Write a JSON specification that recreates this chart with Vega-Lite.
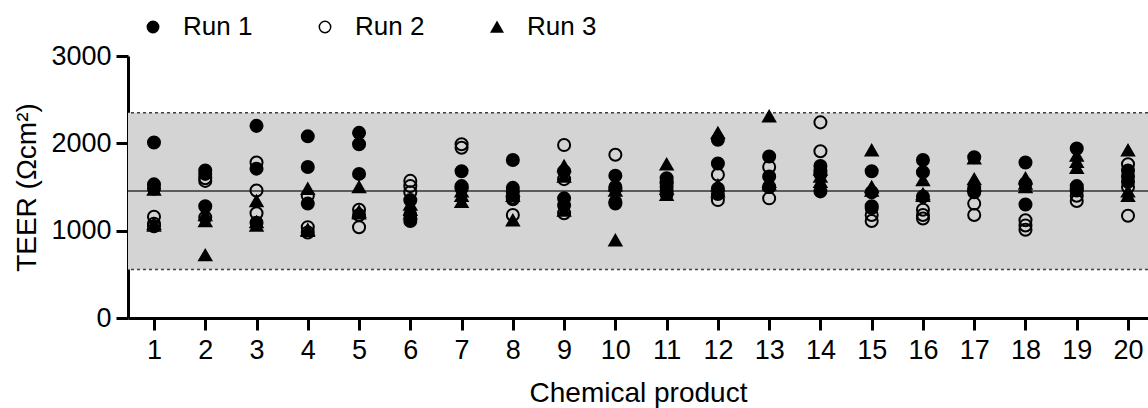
{
  "$schema": "https://vega.github.io/schema/vega-lite/v6.json",
  "width": 1020,
  "height": 262,
  "autosize": {"type": "none"},
  "padding": {"left": 128, "top": 56, "right": 0, "bottom": 90},
  "config": {
    "view": {"stroke": null},
    "font": "Liberation Sans",
    "axis": {
      "domainColor": "black", "domainWidth": 3,
      "tickColor": "black", "tickWidth": 3, "tickSize": 12,
      "labelColor": "black", "labelFontSize": 27, "labelFont": "Liberation Sans",
      "titleColor": "black", "titleFontSize": 28, "titleFontWeight": "normal", "titleFont": "Liberation Sans",
      "grid": false, "labelFlush": false, "labelOverlap": false
    },
    "legend": {"padding": 0}
  },
  "datasets": {
    "band": [{"lower": 555, "upper": 2350, "mean": 1455}],
    "points": [
      {"product":1,"run":"Run 1","teer":2010},{"product":1,"run":"Run 1","teer":1530},{"product":1,"run":"Run 1","teer":1480},
      {"product":1,"run":"Run 2","teer":1160},{"product":1,"run":"Run 2","teer":1050},{"product":1,"run":"Run 2","teer":1080},
      {"product":1,"run":"Run 3","teer":1470},{"product":1,"run":"Run 3","teer":1080},{"product":1,"run":"Run 3","teer":1060},
      {"product":2,"run":"Run 1","teer":1690},{"product":2,"run":"Run 1","teer":1650},{"product":2,"run":"Run 1","teer":1280},
      {"product":2,"run":"Run 2","teer":1570},{"product":2,"run":"Run 2","teer":1600},{"product":2,"run":"Run 2","teer":1150},
      {"product":2,"run":"Run 3","teer":1180},{"product":2,"run":"Run 3","teer":1110},{"product":2,"run":"Run 3","teer":720},
      {"product":3,"run":"Run 1","teer":2200},{"product":3,"run":"Run 1","teer":1710},{"product":3,"run":"Run 1","teer":1090},
      {"product":3,"run":"Run 2","teer":1780},{"product":3,"run":"Run 2","teer":1460},{"product":3,"run":"Run 2","teer":1200},
      {"product":3,"run":"Run 3","teer":1340},{"product":3,"run":"Run 3","teer":1100},{"product":3,"run":"Run 3","teer":1060},
      {"product":4,"run":"Run 1","teer":2080},{"product":4,"run":"Run 1","teer":1730},{"product":4,"run":"Run 1","teer":1310},
      {"product":4,"run":"Run 2","teer":1400},{"product":4,"run":"Run 2","teer":1040},{"product":4,"run":"Run 2","teer":980},
      {"product":4,"run":"Run 3","teer":1480},{"product":4,"run":"Run 3","teer":1010},{"product":4,"run":"Run 3","teer":1000},
      {"product":5,"run":"Run 1","teer":2120},{"product":5,"run":"Run 1","teer":1990},{"product":5,"run":"Run 1","teer":1650},
      {"product":5,"run":"Run 2","teer":1240},{"product":5,"run":"Run 2","teer":1180},{"product":5,"run":"Run 2","teer":1040},
      {"product":5,"run":"Run 3","teer":1500},{"product":5,"run":"Run 3","teer":1220},{"product":5,"run":"Run 3","teer":1200},
      {"product":6,"run":"Run 1","teer":1350},{"product":6,"run":"Run 1","teer":1180},{"product":6,"run":"Run 1","teer":1110},
      {"product":6,"run":"Run 2","teer":1570},{"product":6,"run":"Run 2","teer":1510},{"product":6,"run":"Run 2","teer":1440},
      {"product":6,"run":"Run 3","teer":1300},{"product":6,"run":"Run 3","teer":1240},{"product":6,"run":"Run 3","teer":1200},
      {"product":7,"run":"Run 1","teer":1680},{"product":7,"run":"Run 1","teer":1510},{"product":7,"run":"Run 1","teer":1480},
      {"product":7,"run":"Run 2","teer":1990},{"product":7,"run":"Run 2","teer":1950},{"product":7,"run":"Run 2","teer":1500},
      {"product":7,"run":"Run 3","teer":1330},{"product":7,"run":"Run 3","teer":1450},{"product":7,"run":"Run 3","teer":1400},
      {"product":8,"run":"Run 1","teer":1810},{"product":8,"run":"Run 1","teer":1490},{"product":8,"run":"Run 1","teer":1440},
      {"product":8,"run":"Run 2","teer":1380},{"product":8,"run":"Run 2","teer":1180},{"product":8,"run":"Run 2","teer":1360},
      {"product":8,"run":"Run 3","teer":1120},{"product":8,"run":"Run 3","teer":1460},{"product":8,"run":"Run 3","teer":1400},
      {"product":9,"run":"Run 1","teer":1680},{"product":9,"run":"Run 1","teer":1370},{"product":9,"run":"Run 1","teer":1290},
      {"product":9,"run":"Run 2","teer":1980},{"product":9,"run":"Run 2","teer":1590},{"product":9,"run":"Run 2","teer":1200},
      {"product":9,"run":"Run 3","teer":1740},{"product":9,"run":"Run 3","teer":1620},{"product":9,"run":"Run 3","teer":1230},
      {"product":10,"run":"Run 1","teer":1630},{"product":10,"run":"Run 1","teer":1330},{"product":10,"run":"Run 1","teer":1310},
      {"product":10,"run":"Run 2","teer":1870},{"product":10,"run":"Run 2","teer":1500},{"product":10,"run":"Run 2","teer":1480},
      {"product":10,"run":"Run 3","teer":890},{"product":10,"run":"Run 3","teer":1520},{"product":10,"run":"Run 3","teer":1460},
      {"product":11,"run":"Run 1","teer":1600},{"product":11,"run":"Run 1","teer":1540},{"product":11,"run":"Run 1","teer":1450},
      {"product":11,"run":"Run 2","teer":1560},{"product":11,"run":"Run 2","teer":1500},{"product":11,"run":"Run 2","teer":1420},
      {"product":11,"run":"Run 3","teer":1760},{"product":11,"run":"Run 3","teer":1480},{"product":11,"run":"Run 3","teer":1410},
      {"product":12,"run":"Run 1","teer":2040},{"product":12,"run":"Run 1","teer":1770},{"product":12,"run":"Run 1","teer":1420},
      {"product":12,"run":"Run 2","teer":1640},{"product":12,"run":"Run 2","teer":1480},{"product":12,"run":"Run 2","teer":1350},
      {"product":12,"run":"Run 3","teer":2120},{"product":12,"run":"Run 3","teer":1520},{"product":12,"run":"Run 3","teer":1450},
      {"product":13,"run":"Run 1","teer":1850},{"product":13,"run":"Run 1","teer":1620},{"product":13,"run":"Run 1","teer":1500},
      {"product":13,"run":"Run 2","teer":1730},{"product":13,"run":"Run 2","teer":1500},{"product":13,"run":"Run 2","teer":1370},
      {"product":13,"run":"Run 3","teer":2310},{"product":13,"run":"Run 3","teer":1560},{"product":13,"run":"Run 3","teer":1530},
      {"product":14,"run":"Run 1","teer":1740},{"product":14,"run":"Run 1","teer":1680},{"product":14,"run":"Run 1","teer":1450},
      {"product":14,"run":"Run 2","teer":2240},{"product":14,"run":"Run 2","teer":1910},{"product":14,"run":"Run 2","teer":1650},
      {"product":14,"run":"Run 3","teer":1620},{"product":14,"run":"Run 3","teer":1700},{"product":14,"run":"Run 3","teer":1560},
      {"product":15,"run":"Run 1","teer":1680},{"product":15,"run":"Run 1","teer":1440},{"product":15,"run":"Run 1","teer":1280},
      {"product":15,"run":"Run 2","teer":1260},{"product":15,"run":"Run 2","teer":1180},{"product":15,"run":"Run 2","teer":1110},
      {"product":15,"run":"Run 3","teer":1920},{"product":15,"run":"Run 3","teer":1500},{"product":15,"run":"Run 3","teer":1460},
      {"product":16,"run":"Run 1","teer":1810},{"product":16,"run":"Run 1","teer":1670},{"product":16,"run":"Run 1","teer":1390},
      {"product":16,"run":"Run 2","teer":1240},{"product":16,"run":"Run 2","teer":1180},{"product":16,"run":"Run 2","teer":1140},
      {"product":16,"run":"Run 3","teer":1580},{"product":16,"run":"Run 3","teer":1420},{"product":16,"run":"Run 3","teer":1400},
      {"product":17,"run":"Run 1","teer":1840},{"product":17,"run":"Run 1","teer":1490},{"product":17,"run":"Run 1","teer":1440},
      {"product":17,"run":"Run 2","teer":1460},{"product":17,"run":"Run 2","teer":1310},{"product":17,"run":"Run 2","teer":1180},
      {"product":17,"run":"Run 3","teer":1830},{"product":17,"run":"Run 3","teer":1590},{"product":17,"run":"Run 3","teer":1520},
      {"product":18,"run":"Run 1","teer":1780},{"product":18,"run":"Run 1","teer":1300},{"product":18,"run":"Run 1","teer":1540},
      {"product":18,"run":"Run 2","teer":1120},{"product":18,"run":"Run 2","teer":1060},{"product":18,"run":"Run 2","teer":1010},
      {"product":18,"run":"Run 3","teer":1600},{"product":18,"run":"Run 3","teer":1540},{"product":18,"run":"Run 3","teer":1500},
      {"product":19,"run":"Run 1","teer":1940},{"product":19,"run":"Run 1","teer":1510},{"product":19,"run":"Run 1","teer":1480},
      {"product":19,"run":"Run 2","teer":1460},{"product":19,"run":"Run 2","teer":1400},{"product":19,"run":"Run 2","teer":1340},
      {"product":19,"run":"Run 3","teer":1860},{"product":19,"run":"Run 3","teer":1790},{"product":19,"run":"Run 3","teer":1720},
      {"product":20,"run":"Run 1","teer":1690},{"product":20,"run":"Run 1","teer":1620},{"product":20,"run":"Run 1","teer":1560},
      {"product":20,"run":"Run 2","teer":1760},{"product":20,"run":"Run 2","teer":1500},{"product":20,"run":"Run 2","teer":1170},
      {"product":20,"run":"Run 3","teer":1920},{"product":20,"run":"Run 3","teer":1400},{"product":20,"run":"Run 3","teer":1450}
    ]
  },
  "layer": [
    {
      "data": {"name": "band"},
      "mark": {"type": "rect", "fill": "#d4d4d4"},
      "encoding": {
        "y": {"field": "lower", "type": "quantitative", "title": "TEER (Ωcm²)"},
        "y2": {"field": "upper"}
      }
    },
    {
      "data": {"name": "band"},
      "mark": {"type": "rule", "color": "#404040", "strokeWidth": 1.5, "strokeDash": [3, 3]},
      "encoding": {"y": {"field": "lower", "type": "quantitative", "title": "TEER (Ωcm²)"}}
    },
    {
      "data": {"name": "band"},
      "mark": {"type": "rule", "color": "#404040", "strokeWidth": 1.5, "strokeDash": [3, 3]},
      "encoding": {"y": {"field": "upper", "type": "quantitative", "title": "TEER (Ωcm²)"}}
    },
    {
      "data": {"name": "band"},
      "mark": {"type": "rule", "color": "#333333", "strokeWidth": 1.5},
      "encoding": {"y": {"field": "mean", "type": "quantitative", "title": "TEER (Ωcm²)"}}
    },
    {
      "data": {"name": "points"},
      "mark": {"type": "point", "size": 145, "stroke": "black", "strokeWidth": 2, "opacity": 1},
      "encoding": {
        "x": {
          "field": "product", "type": "quantitative", "title": "Chemical product",
          "scale": {"domain": [0.493, 20.39], "nice": false, "zero": false},
          "axis": {"values": [1,2,3,4,5,6,7,8,9,10,11,12,13,14,15,16,17,18,19,20], "format": "d", "labelPadding": 7, "titlePadding": 16}
        },
        "y": {
          "field": "teer", "type": "quantitative", "title": "TEER (Ωcm²)",
          "scale": {"domain": [0, 3000], "nice": false},
          "axis": {"values": [0, 1000, 2000, 3000], "format": "d", "labelPadding": 5, "titlePadding": 9}
        },
        "shape": {
          "field": "run", "type": "nominal",
          "scale": {"domain": ["Run 1", "Run 2", "Run 3"], "range": ["circle", "circle", "triangle-up"]},
          "legend": {
            "title": null, "orient": "none", "direction": "horizontal",
            "legendX": 12, "legendY": -42,
            "labelFontSize": 26, "labelColor": "black", "labelFont": "Liberation Sans",
            "symbolSize": 130, "labelOffset": 17, "columnPadding": 59,
            "encode": {"symbols": {"update": {"stroke": {"value": "black"}, "strokeWidth": {"value": 2}}}}
          }
        },
        "fill": {
          "field": "run", "type": "nominal",
          "scale": {"domain": ["Run 1", "Run 2", "Run 3"], "range": ["black", "transparent", "black"]},
          "legend": {
            "title": null, "orient": "none", "direction": "horizontal",
            "legendX": 12, "legendY": -42,
            "labelFontSize": 26, "labelColor": "black", "labelFont": "Liberation Sans",
            "symbolSize": 130, "labelOffset": 17, "columnPadding": 59,
            "encode": {"symbols": {"update": {"stroke": {"value": "black"}, "strokeWidth": {"value": 2}}}}
          }
        }
      }
    }
  ]
}
